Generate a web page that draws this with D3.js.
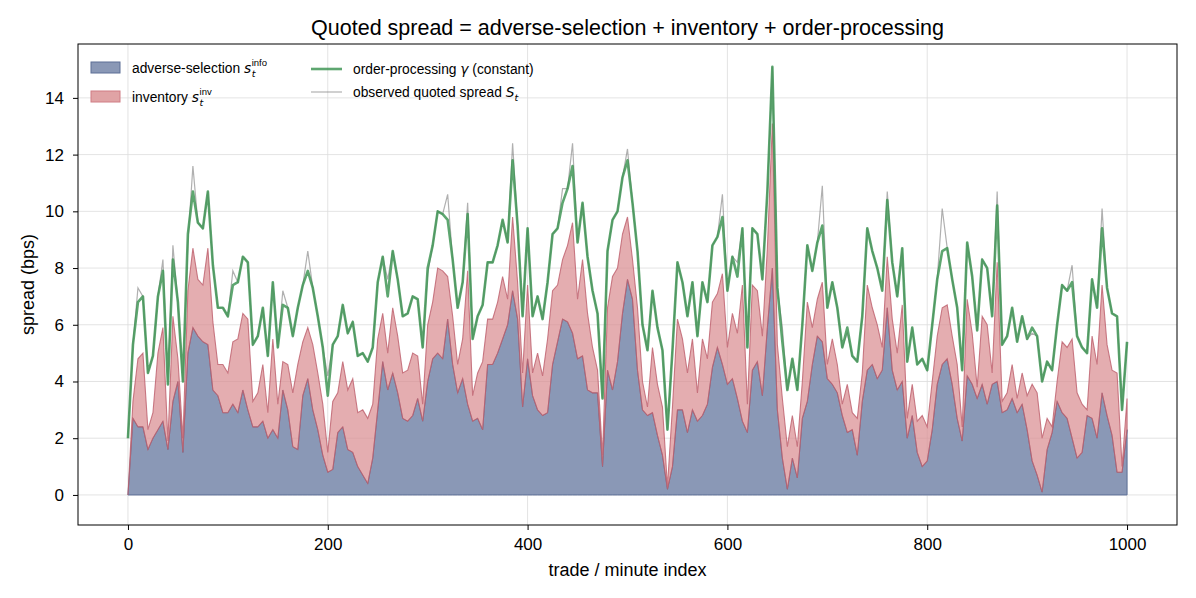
<!DOCTYPE html>
<meta charset="utf-8">
<style>
body { margin: 0; background: #fff; }
text { font-family: "Liberation Sans", Arial, sans-serif; fill: #000; white-space: pre; }
.grid line { stroke: #dcdcdc; stroke-width: 0.8px; }
</style>
<body>
<script src="https://cdn.jsdelivr.net/npm/d3@7"></script>
<script>

// trade / minute index of every sample (one reading every 5 steps)
var tIndex = d3.range(0, 1001, 5);

// adverse-selection component s_t^info
var sInfo = [
  0.0, 2.7, 2.4, 2.4, 1.6, 2.0, 2.3, 2.6, 1.6, 3.3,
  4.0, 1.5, 5.0, 5.9, 5.6, 5.4, 5.3, 3.7, 3.5, 2.9,
  2.9, 3.2, 2.9, 3.7, 3.0, 2.4, 2.4, 2.6, 2.0, 2.3,
  2.0, 3.7, 3.0, 1.7, 1.6, 3.5, 4.1, 3.0, 2.3, 1.4,
  0.8, 0.9, 2.2, 2.4, 1.6, 1.5, 1.0, 0.7, 0.4, 1.3,
  3.0, 4.7, 3.7, 4.3, 3.6, 2.7, 2.6, 2.8, 3.4, 2.6,
  4.0, 4.8, 5.0, 4.8, 6.2, 4.6, 3.6, 4.1, 3.2, 2.6,
  2.7, 2.3, 4.6, 4.6, 5.0, 5.5, 6.0, 7.2, 6.2, 3.1,
  4.8, 3.5, 3.0, 2.8, 2.9, 4.6, 5.4, 6.2, 6.1, 5.7,
  4.8, 4.9, 3.7, 3.6, 3.6, 1.0, 4.4, 3.7, 4.7, 6.4,
  7.6, 6.9, 4.4, 3.0, 2.8, 2.9, 2.1, 1.4, 0.2, 1.0,
  3.0, 3.0, 2.2, 3.0, 2.6, 2.8, 3.2, 4.5, 5.2, 4.6,
  3.9, 4.1, 3.4, 2.6, 2.2, 4.4, 4.7, 3.5, 5.9, 8.0,
  3.0, 1.3, 0.2, 1.3, 0.6, 2.7, 3.3, 4.6, 5.6, 5.4,
  4.1, 3.9, 3.6, 2.8, 2.2, 2.3, 1.4, 3.3, 4.4, 4.6,
  4.1, 4.4, 6.6, 4.4, 3.7, 4.0, 2.0, 2.8, 1.5, 1.0,
  1.2, 2.3, 3.9, 4.6, 4.8, 3.9, 2.7, 1.9, 4.2, 3.9,
  3.4, 3.9, 3.2, 3.9, 4.0, 2.9, 3.0, 3.4, 2.9, 3.2,
  2.3, 1.2, 0.7, 0.1, 1.6, 2.2, 3.3, 2.9, 2.7, 2.0,
  1.3, 1.5, 2.8, 2.7, 2.0, 3.6, 2.8, 2.1, 0.8, 0.8,
  2.3
];

// inventory component s_t^inv
var sInv = [
  0.0, 0.6, 2.4, 2.6, 0.7, 0.9, 2.7, 3.3, 0.3, 3.0,
  0.8, 0.5, 2.2, 2.8, 2.0, 2.0, 3.4, 2.4, 1.1, 1.7,
  1.4, 2.2, 2.6, 2.7, 3.2, 0.9, 1.2, 2.0, 0.9, 3.2,
  1.2, 1.0, 1.6, 1.9, 3.0, 1.9, 1.8, 2.3, 2.0, 1.8,
  0.7, 2.4, 1.4, 2.3, 2.1, 2.6, 1.9, 2.3, 2.3, 1.9,
  2.5, 1.7, 1.3, 2.3, 2.0, 1.6, 1.8, 2.2, 1.5, 0.6,
  2.0, 2.0, 3.0, 3.1, 1.5, 1.7, 1.0, 1.4, 4.7, 0.9,
  1.6, 2.4, 1.6, 1.6, 1.8, 2.2, 0.9, 2.6, 1.3, 1.2,
  2.6, 0.8, 2.0, 1.4, 2.6, 2.6, 2.0, 2.1, 2.7, 3.9,
  2.1, 3.4, 2.7, 1.6, 0.8, 0.4, 2.2, 4.0, 3.3, 2.8,
  2.2, 1.4, 2.2, 1.0, 0.3, 2.3, 1.8, 1.7, 0.1, 2.1,
  3.2, 2.5, 2.1, 2.5, 1.0, 2.7, 1.6, 2.3, 1.9, 3.2,
  1.3, 2.3, 2.3, 4.8, 1.0, 3.0, 2.5, 2.1, 2.8, 5.1,
  2.3, 2.1, 1.5, 1.5, 1.1, 1.3, 3.5, 1.3, 1.3, 2.1,
  0.5, 1.6, 1.0, 0.4, 1.7, 0.6, 1.3, 1.0, 3.0, 2.0,
  1.9, 0.8, 1.8, 1.8, 1.3, 2.7, 0.7, 1.1, 1.1, 1.8,
  1.2, 1.7, 1.7, 2.0, 1.9, 1.7, 1.9, 0.5, 2.7, 1.8,
  0.4, 2.4, 2.8, 0.4, 4.2, 0.4, 0.6, 1.2, 0.5, 1.1,
  1.2, 2.7, 2.9, 1.9, 1.1, 0.2, 0.7, 2.5, 2.5, 3.5,
  2.3, 1.7, 0.2, 2.9, 2.6, 3.8, 2.5, 2.3, 3.5, 0.2,
  1.1
];

// order-processing component (constant)
var gamma = 2;

// observed quoted spread S_t
var observed = [
  2.0, 5.3, 7.3, 7.0, 4.3, 4.9, 7.0, 8.3, 3.9, 8.8,
  6.8, 4.0, 8.9, 11.6, 9.6, 9.4, 10.7, 8.1, 6.6, 6.6,
  6.3, 7.9, 7.5, 8.4, 8.2, 5.3, 5.6, 6.6, 4.9, 7.5,
  5.2, 7.2, 6.6, 5.6, 6.6, 7.4, 8.6, 7.3, 6.3, 5.2,
  4.2, 5.3, 5.6, 6.7, 5.7, 6.1, 4.9, 5.0, 4.7, 5.2,
  7.5, 8.4, 7.6, 8.6, 7.6, 6.3, 6.4, 7.0, 6.9, 5.2,
  7.8, 8.8, 10.0, 9.9, 10.6, 8.3, 6.6, 7.5, 10.3, 5.5,
  6.3, 6.7, 8.2, 8.2, 8.8, 9.7, 8.9, 12.4, 9.5, 6.3,
  9.4, 6.3, 7.0, 6.2, 7.5, 9.2, 9.4, 10.8, 10.8, 12.4,
  8.9, 10.3, 8.4, 7.2, 6.4, 3.4, 8.6, 9.7, 10.0, 11.2,
  12.2, 10.3, 8.6, 6.0, 5.1, 7.2, 5.9, 5.1, 2.3, 5.1,
  8.2, 7.5, 6.3, 7.5, 5.6, 7.5, 6.8, 8.8, 9.1, 10.6,
  7.2, 8.4, 8.2, 9.4, 5.2, 9.4, 9.2, 7.6, 10.7, 15.1,
  7.3, 5.9, 3.7, 4.8, 3.7, 6.0, 8.8, 7.9, 8.9, 10.9,
  6.6, 7.5, 6.6, 5.2, 5.7, 4.9, 4.7, 6.3, 9.4, 8.6,
  8.0, 7.2, 10.7, 8.2, 7.0, 8.7, 4.7, 5.9, 4.6, 4.8,
  4.4, 6.0, 7.6, 10.1, 8.7, 7.6, 6.6, 4.4, 8.9, 7.7,
  5.8, 8.3, 8.0, 6.3, 10.7, 5.3, 5.6, 6.6, 5.4, 6.3,
  5.5, 5.7, 5.6, 4.0, 4.7, 4.4, 6.0, 7.4, 7.2, 8.1,
  5.6, 5.2, 5.0, 7.6, 6.6, 10.1, 7.3, 6.4, 6.3, 3.0,
  5.4
];

var xTicks = [0, 200, 400, 600, 800, 1000];
var yTicks = [0, 2, 4, 6, 8, 10, 12, 14];

var W = 1196, H = 598;
var margin = {top: 44, right: 19, bottom: 73, left: 78};

var x = d3.scaleLinear().domain([-50, 1050]).range([margin.left, W - margin.right]);
var y = d3.scaleLinear().domain([-1.06, 15.9]).range([H - margin.bottom, margin.top]);

var rows = tIndex.map(function(t, i) {
  return {t: t, info: sInfo[i], inv: sInv[i], gamma: gamma, obs: observed[i]};
});

var stack = d3.stack().keys(["info", "inv", "gamma"]);
var layers = stack(rows);

var svg = d3.select("body").append("svg")
    .attr("width", W)
    .attr("height", H);

svg.append("defs").append("clipPath").attr("id", "plot")
  .append("rect")
    .attr("x", margin.left).attr("y", margin.top)
    .attr("width", W - margin.left - margin.right)
    .attr("height", H - margin.top - margin.bottom);

// grid
var grid = svg.append("g").attr("class", "grid");
grid.selectAll(".gx").data(xTicks).enter().append("line")
    .attr("x1", d => x(d)).attr("x2", d => x(d))
    .attr("y1", margin.top).attr("y2", H - margin.bottom);
grid.selectAll(".gy").data(yTicks).enter().append("line")
    .attr("x1", margin.left).attr("x2", W - margin.right)
    .attr("y1", d => y(d)).attr("y2", d => y(d));

var plot = svg.append("g").attr("clip-path", "url(#plot)");

var area = d3.area()
    .x(d => x(d.data.t))
    .y0(d => y(d[0]))
    .y1(d => y(d[1]));

// adverse-selection
plot.append("path")
    .datum(layers[0])
    .attr("d", area)
    .attr("fill", "#8a98b6")
    .attr("stroke", "#5d6f96")
    .attr("stroke-width", 1);

// inventory
plot.append("path")
    .datum(layers[1])
    .attr("d", area)
    .attr("fill", "#d98e91")
    .attr("fill-opacity", 0.72)
    .attr("stroke", "#bd5e6c")
    .attr("stroke-opacity", 0.8)
    .attr("stroke-width", 1.1);

// observed
plot.append("path")
    .datum(rows)
    .attr("d", d3.line().x(d => x(d.t)).y(d => y(d.obs)))
    .attr("fill", "none")
    .attr("stroke", "#6f6f6f")
    .attr("stroke-opacity", 0.55)
    .attr("stroke-width", 1.2);

// total (order-processing on top)
plot.append("path")
    .datum(layers[2])
    .attr("d", d3.line().x(d => x(d.data.t)).y(d => y(d[1])))
    .attr("fill", "none")
    .attr("stroke", "#3b9350")
    .attr("stroke-opacity", 0.82)
    .attr("stroke-width", 2.6)
    .attr("stroke-linejoin", "round");

// axes
var xAxis = svg.append("g")
    .attr("transform", "translate(0," + (H - margin.bottom) + ")")
    .call(d3.axisBottom(x).tickValues(xTicks).tickFormat(d3.format("d")).tickSize(5).tickPadding(8));
var yAxis = svg.append("g")
    .attr("transform", "translate(" + margin.left + ",0)")
    .call(d3.axisLeft(y).tickValues(yTicks).tickSize(5).tickPadding(9));
[xAxis, yAxis].forEach(function(a) {
  a.select(".domain").remove();
  a.selectAll("text").style("font-size", "17px").style("font-family", "Liberation Sans, Arial, sans-serif");
  a.selectAll("line").attr("stroke", "#000");
});

svg.append("rect")
    .attr("x", margin.left).attr("y", margin.top)
    .attr("width", W - margin.left - margin.right)
    .attr("height", H - margin.top - margin.bottom)
    .attr("fill", "none").attr("stroke", "#000").attr("stroke-width", 1);

// titles
svg.append("text")
    .attr("x", (margin.left + W - margin.right) / 2).attr("y", 35)
    .attr("text-anchor", "middle").style("font-size", "21.5px")
    .text("Quoted spread = adverse-selection + inventory + order-processing");
svg.append("text")
    .attr("x", (margin.left + W - margin.right) / 2).attr("y", 576)
    .attr("text-anchor", "middle").style("font-size", "18px")
    .text("trade / minute index");
svg.append("text")
    .attr("transform", "translate(34," + ((margin.top + H - margin.bottom) / 2) + ") rotate(-90)")
    .attr("text-anchor", "middle").style("font-size", "18px")
    .text("spread (bps)");

// legend
var lg = svg.append("g").style("font-size", "13.8px");

function mathLabel(x0, yb, plain, sym, sub, sup) {
  var t = lg.append("text").attr("x", x0).attr("y", yb).text(plain);
  var s = lg.append("text").attr("y", yb).style("font-style", "italic").style("font-family", "DejaVu Sans, sans-serif").text(sym);
  var xs = x0 + t.node().getComputedTextLength();
  s.attr("x", xs);
  var xe = xs + s.node().getComputedTextLength() + 0.5;
  lg.append("text").attr("x", xe).attr("y", yb + 4).style("font-size", "9.5px").style("font-style", "italic").style("font-family", "DejaVu Sans, sans-serif").text(sub);
  if (sup) lg.append("text").attr("x", xe).attr("y", yb - 7).style("font-size", "9.5px").text(sup);
}

lg.append("rect").attr("x", 91).attr("y", 62).attr("width", 29).attr("height", 11)
    .attr("fill", "#8a98b6").attr("stroke", "#5d6f96");
lg.append("rect").attr("x", 91).attr("y", 91).attr("width", 29).attr("height", 11)
    .attr("fill", "#e0a3a5").attr("stroke", "#d07d84");
mathLabel(132, 73, "adverse-selection ", "s", "t", "info");
mathLabel(132, 102, "inventory ", "s", "t", "inv");

lg.append("line").attr("x1", 311).attr("x2", 342).attr("y1", 69).attr("y2", 69)
    .attr("stroke", "#3b9350").attr("stroke-opacity", 0.82).attr("stroke-width", 2.6);
lg.append("line").attr("x1", 311).attr("x2", 342).attr("y1", 92).attr("y2", 92)
    .attr("stroke", "#6f6f6f").attr("stroke-opacity", 0.55).attr("stroke-width", 1.2);

var t1 = lg.append("text").attr("x", 353).attr("y", 74).text("order-processing ");
var g1 = lg.append("text").attr("y", 74).style("font-style", "italic").style("font-family", "DejaVu Sans, sans-serif").text("γ");
g1.attr("x", 353 + t1.node().getComputedTextLength());
lg.append("text").attr("x", 353 + t1.node().getComputedTextLength() + g1.node().getComputedTextLength()).attr("y", 74).text(" (constant)");

var t2 = lg.append("text").attr("x", 353).attr("y", 97).text("observed quoted spread ");
var s2 = lg.append("text").attr("y", 97).style("font-style", "italic").style("font-family", "DejaVu Sans, sans-serif").text("S");
s2.attr("x", 353 + t2.node().getComputedTextLength());
lg.append("text").attr("x", 353 + t2.node().getComputedTextLength() + s2.node().getComputedTextLength()).attr("y", 101)
    .style("font-size", "9.5px").style("font-style", "italic").style("font-family", "DejaVu Sans, sans-serif").text("t");

</script>
</body>
